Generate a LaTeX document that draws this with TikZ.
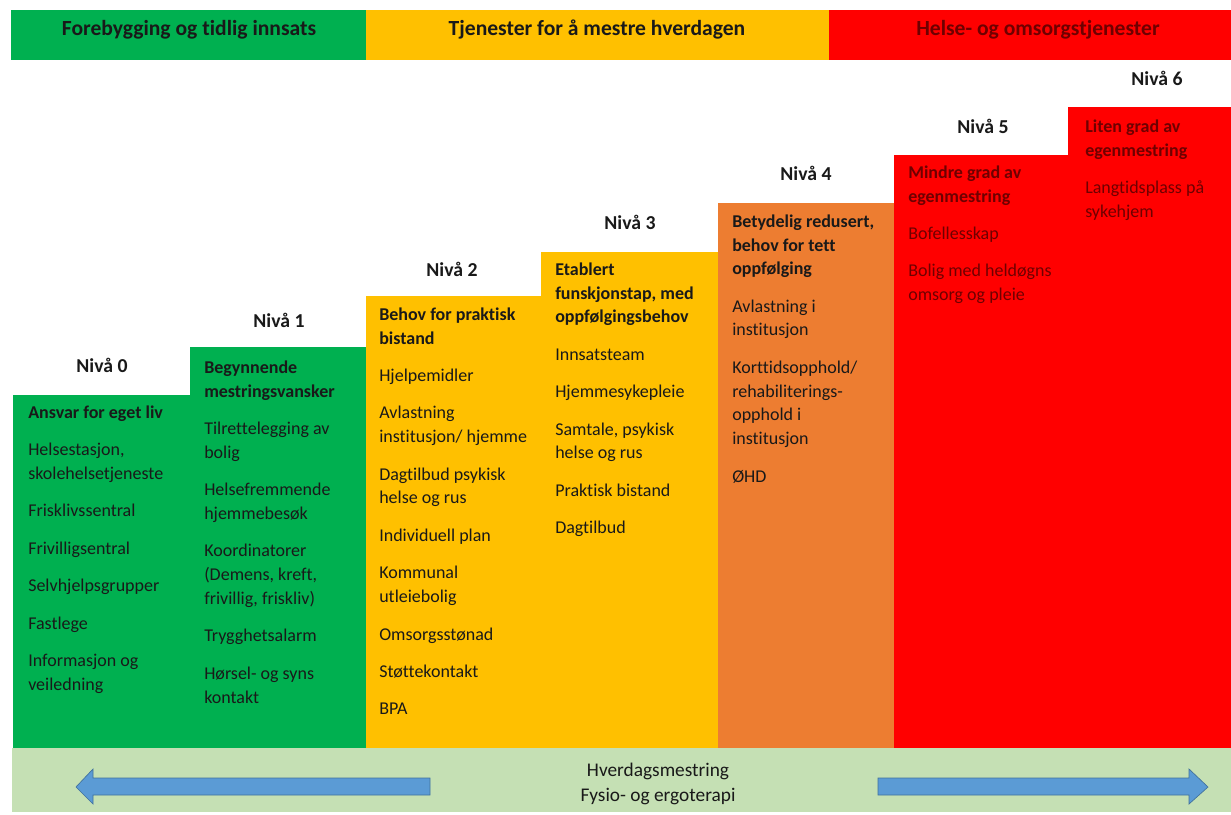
\documentclass[tikz,border=0pt]{standalone}
\usepackage{fontspec}
\setmainfont{Carlito}[Ligatures={NoCommon}]
\definecolor{cgreen}{HTML}{00B050}
\definecolor{cyellow}{HTML}{FFC000}
\definecolor{corange}{HTML}{ED7D31}
\definecolor{cred}{HTML}{FF0000}
\definecolor{cband}{HTML}{C5E0B4}
\definecolor{carrow}{HTML}{5B9BD5}
\definecolor{carrowline}{HTML}{41719C}
\definecolor{cdarkred}{RGB}{110,0,0}
\definecolor{ctext}{RGB}{25,25,25}
\newcommand{\fstrut}{\rule{0pt}{12pt}}
\tikzset{
  banner/.style={font=\fontsize{16.2}{19}\selectfont\bfseries, text=ctext},
  nivalabel/.style={font=\fontsize{14.8}{17}\selectfont\bfseries, text=ctext},
  coltext/.style={anchor=north west, inner sep=0pt, align=left, font=\fontsize{13.5}{17.8}\selectfont, text=ctext},
  redtext/.style={coltext, text=cdarkred},
  bandtext/.style={font=\fontsize{14.5}{18}\selectfont, text=ctext},
  bigarrow/.style={fill=carrow, draw=carrowline, line width=0.5pt},
}
\begin{document}
\begin{tikzpicture}[x=0.75pt, y=-0.75pt]
\useasboundingbox (0,0) rectangle (1231,814);
\fill[white] (0,0) rectangle (1231,814);
% top banner
\fill[cgreen] (11,10) rectangle (366,60);
\fill[cyellow] (366,10) rectangle (829,60);
\fill[cred] (829,10) rectangle (1231,60);
\node[banner] (b1) at (189,30) {Forebygging og tidlig innsats};
\node[banner] (b2) at (597,30) {Tjenester for å mestre hverdagen};
\node[banner, text=cdarkred] (b3) at (1038,30) {Helse- og omsorgstjenester};
% columns
\fill[cgreen] (13,395) rectangle (190,748);
\fill[cgreen] (190,347) rectangle (366,748);
\fill[cyellow] (366,296) rectangle (541,748);
\fill[cyellow] (541,252) rectangle (718,748);
\fill[corange] (718,203) rectangle (894,748);
\fill[cred] (894,155) rectangle (1068,748);
\fill[cred] (1068,107) rectangle (1231,748);
% level labels
\node[nivalabel] (n0) at (102,365) {Nivå 0};
\node[nivalabel] (n1) at (279,320) {Nivå 1};
\node[nivalabel] (n2) at (452,269) {Nivå 2};
\node[nivalabel] (n3) at (630,222) {Nivå 3};
\node[nivalabel] (n4) at (806,173) {Nivå 4};
\node[nivalabel] (n5) at (983,126) {Nivå 5};
\node[nivalabel] (n6) at (1157,78) {Nivå 6};
% column texts (first baseline = y + 16)
\node[coltext] (t0) at (28,402) {\fstrut\textbf{Ansvar for eget liv}\\[10.3pt]
Helsestasjon,\\ skolehelsetjeneste\\[10.3pt]
Frisklivssentral\\[10.3pt]
Frivilligsentral\\[10.3pt]
Selvhjelpsgrupper\\[10.3pt]
Fastlege\\[10.3pt]
Informasjon og\\ veiledning};
\node[coltext] (t1) at (204,357) {\fstrut\textbf{Begynnende}\\ \textbf{mestringsvansker}\\[10.3pt]
Tilrettelegging av\\ bolig\\[10.3pt]
Helsefremmende\\ hjemmebesøk\\[10.3pt]
Koordinatorer\\ (Demens, kreft,\\ frivillig, friskliv)\\[10.3pt]
Trygghetsalarm\\[10.3pt]
Hørsel- og syns\\ kontakt};
\node[coltext] (t2) at (379,304) {\fstrut\textbf{Behov for praktisk}\\ \textbf{bistand}\\[10.3pt]
Hjelpemidler\\[10.3pt]
Avlastning\\ institusjon/ hjemme\\[10.3pt]
Dagtilbud psykisk\\ helse og rus\\[10.3pt]
Individuell plan\\[10.3pt]
Kommunal\\ utleiebolig\\[10.3pt]
Omsorgsstønad\\[10.3pt]
Støttekontakt\\[10.3pt]
BPA};
\node[coltext] (t3) at (555,259) {\fstrut\textbf{Etablert}\\ \textbf{funskjonstap, med}\\ \textbf{oppfølgingsbehov}\\[10.3pt]
Innsatsteam\\[10.3pt]
Hjemmesykepleie\\[10.3pt]
Samtale, psykisk\\ helse og rus\\[10.3pt]
Praktisk bistand\\[10.3pt]
Dagtilbud};
\node[coltext] (t4) at (732,211) {\fstrut\textbf{Betydelig redusert,}\\ \textbf{behov for tett}\\ \textbf{oppfølging}\\[10.3pt]
Avlastning i\\ institusjon\\[10.3pt]
Korttidsopphold/\\ rehabiliterings-\\ opphold i\\ institusjon\\[10.3pt]
ØHD};
\node[redtext] (t5) at (908,162) {\fstrut\textbf{Mindre grad av}\\ \textbf{egenmestring}\\[10.3pt]
Bofellesskap\\[10.3pt]
Bolig med heldøgns\\ omsorg og pleie};
\node[redtext] (t6) at (1085,116) {\fstrut\textbf{Liten grad av}\\ \textbf{egenmestring}\\[10.3pt]
Langtidsplass på\\ sykehjem};
% bottom band
\fill[cband] (12,748) rectangle (1231,812);
\node[bandtext] (h1) at (658,771) {Hverdagsmestring};
\node[bandtext] (h2) at (658,796) {Fysio- og ergoterapi};
\draw[bigarrow] (76,787) -- (93,769) -- (93,778) -- (430,778) -- (430,795) -- (93,795) -- (93,804) -- cycle;
\draw[bigarrow] (1208,787) -- (1189,769) -- (1189,778) -- (878,778) -- (878,795) -- (1189,795) -- (1189,804) -- cycle;
\end{tikzpicture}
\end{document}
